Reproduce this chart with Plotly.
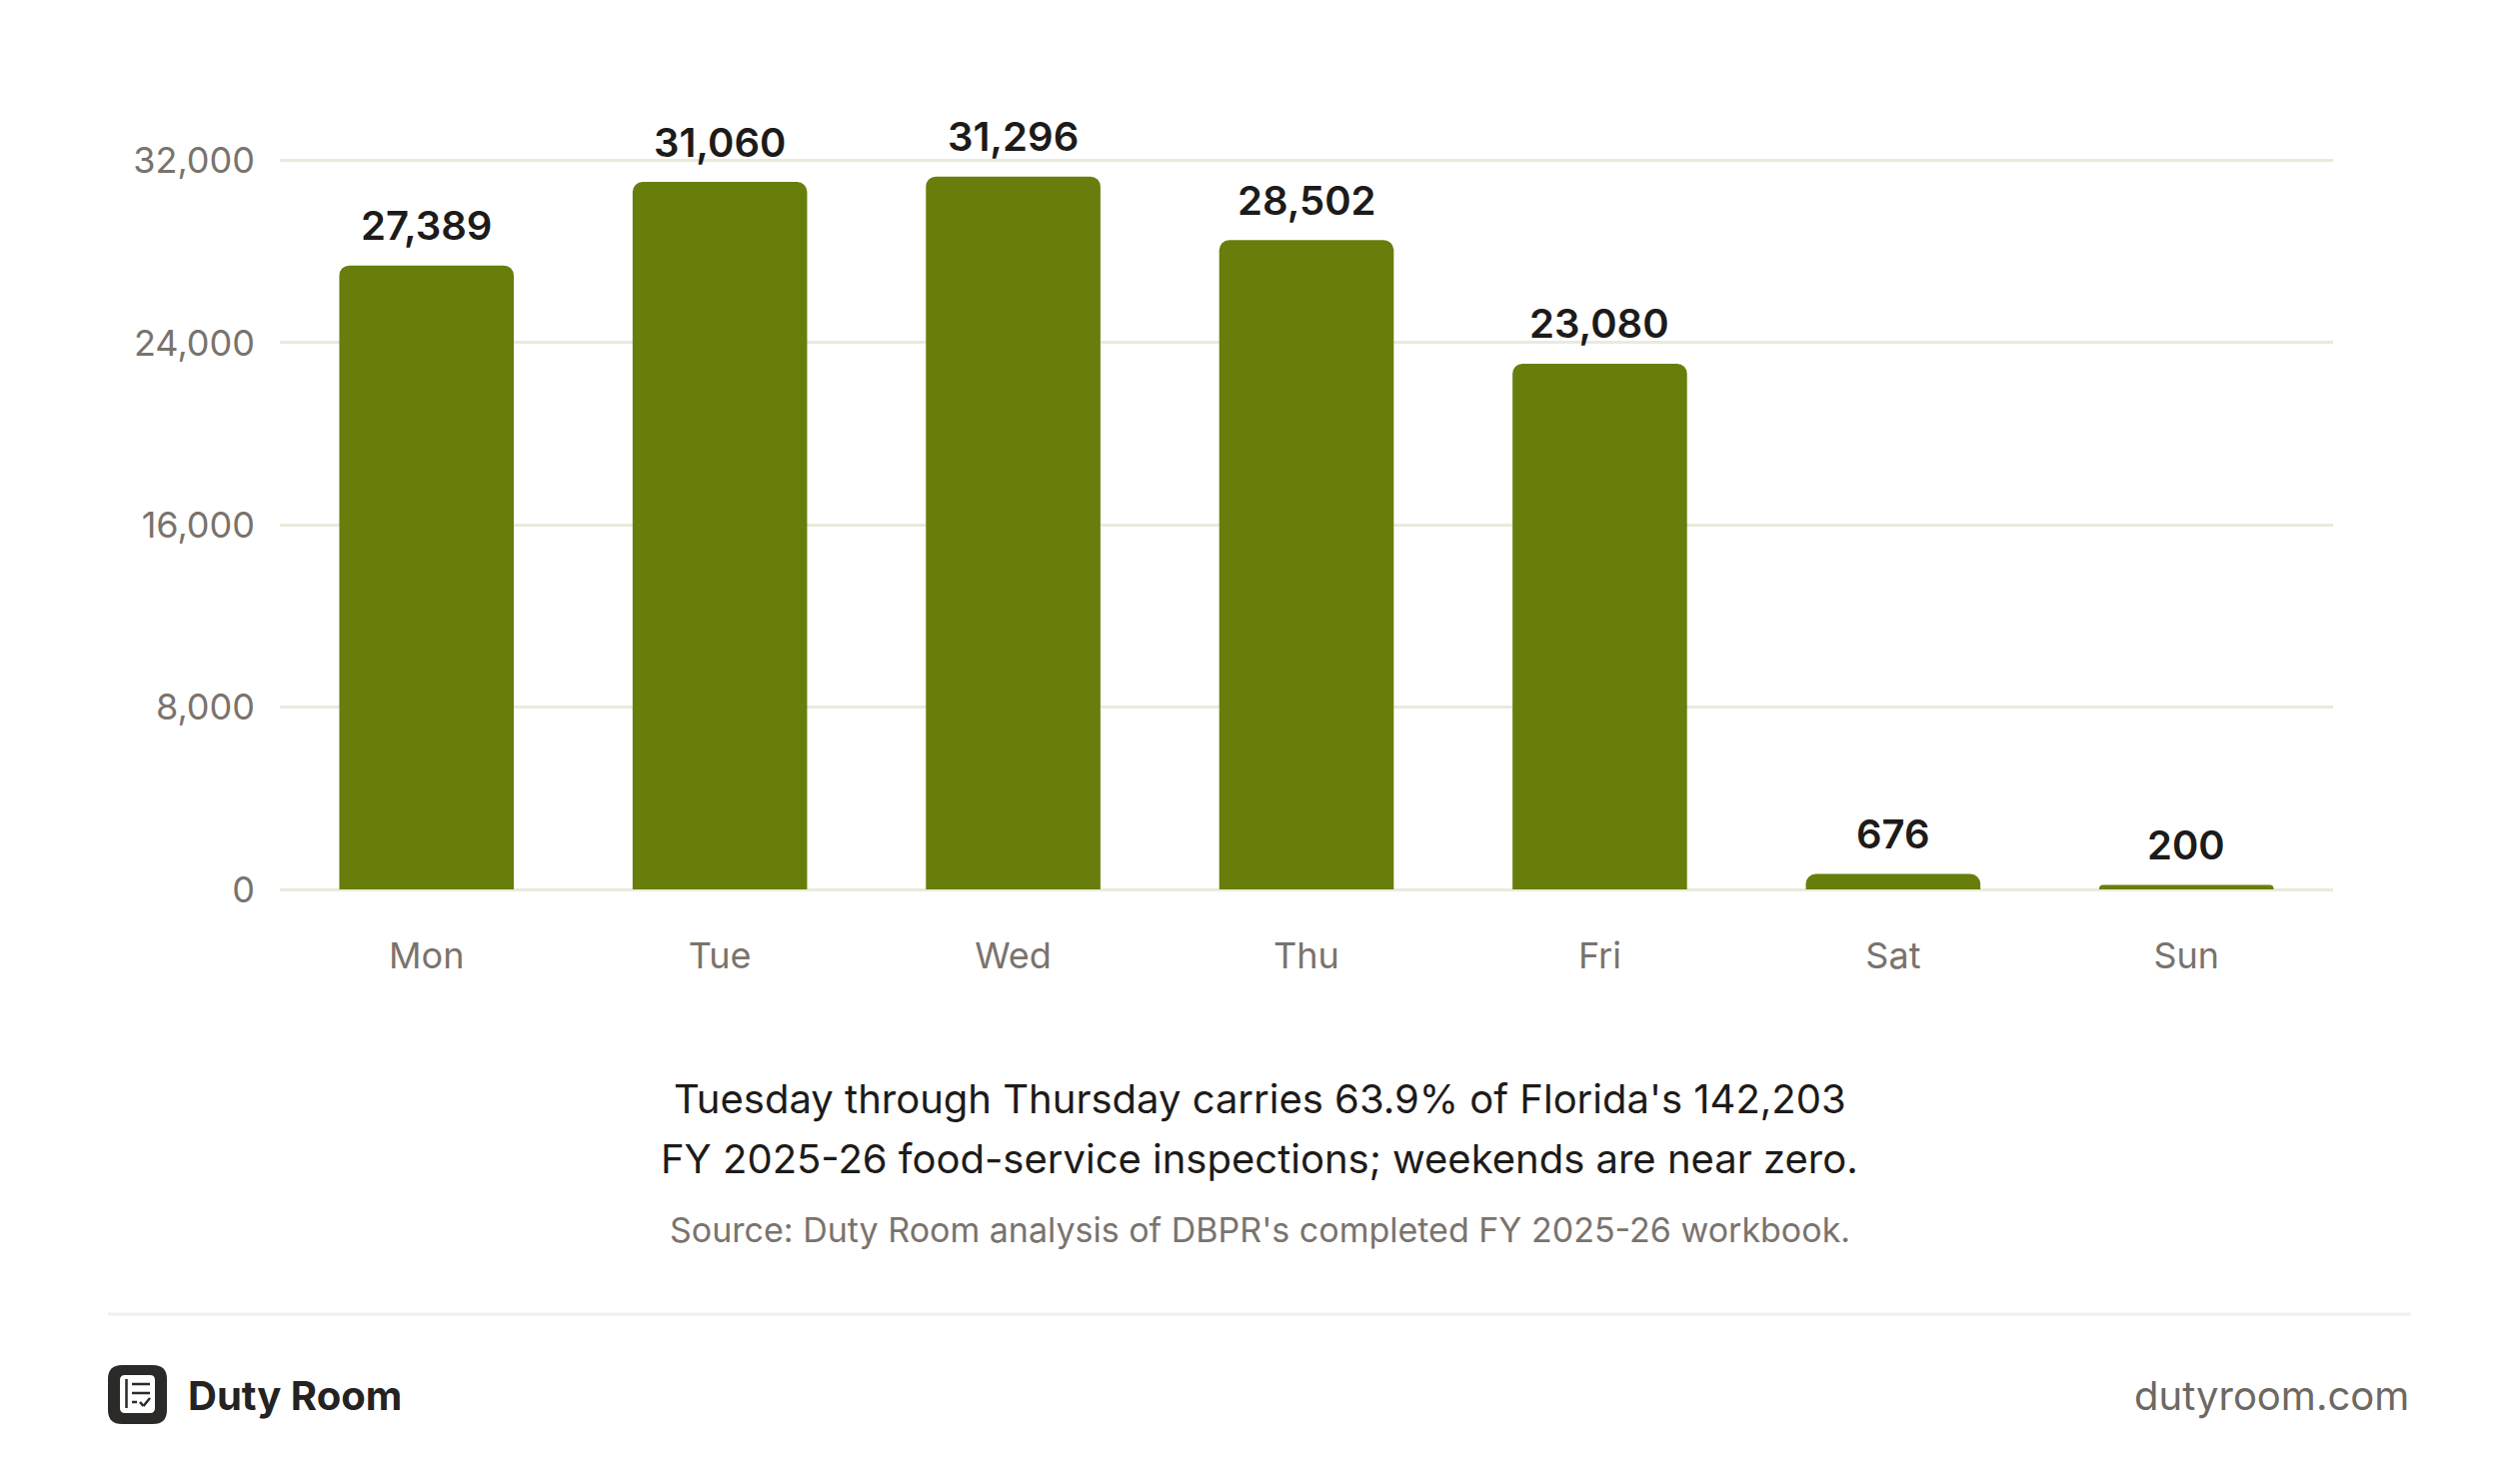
import plotly.graph_objects as go

days = ["Mon", "Tue", "Wed", "Thu", "Fri", "Sat", "Sun"]
inspections = [27389, 31060, 31296, 28502, 23080, 676, 200]
y_ticks = [0, 8000, 16000, 24000, 32000]
y_tick_labels = ["0", "8,000", "16,000", "24,000", "32,000"]

caption_lines = [
    "Tuesday through Thursday carries 63.9% of Florida's 142,203",
    "FY 2025-26 food-service inspections; weekends are near zero.",
]
source_text = "Source: Duty Room analysis of DBPR's completed FY 2025-26 workbook."
brand = "Duty Room"
site = "dutyroom.com"

W, H = 2520, 1485
L, R, T, B = 280, 186, 115, 595
PW, PH = W - L - R, H - T - B

def px(x):
    return (x - L) / PW

def py(y):
    return (H - B - y) / PH

FONT = "Inter, Roboto, sans-serif"
GREEN = "#677E0D"
GRID = "#E8EBDC"
TICK = "#7A736D"
DARK = "#1D1B1A"

fig = go.Figure()
fig.add_trace(go.Bar(
    x=days, y=inspections,
    marker=dict(color=GREEN, cornerradius=10, line=dict(width=0)),
    hoverinfo="skip",
))

annotations = []
for d, v in zip(days, inspections):
    annotations.append(dict(
        x=d, y=v, xref="x", yref="y", text=f"{v:,}", showarrow=False,
        yanchor="middle", yshift=40,
        font=dict(family=FONT, size=40, color=DARK, weight=600),
    ))

annotations.append(dict(x=px(1260), y=py(1099), xref="paper", yref="paper",
                        text=caption_lines[0], showarrow=False, xanchor="center", yanchor="middle",
                        font=dict(family=FONT, size=40, color=DARK)))
annotations.append(dict(x=px(1260), y=py(1159), xref="paper", yref="paper",
                        text=caption_lines[1], showarrow=False, xanchor="center", yanchor="middle",
                        font=dict(family=FONT, size=40, color=DARK)))
annotations.append(dict(x=px(1260), y=py(1230), xref="paper", yref="paper",
                        text=source_text, showarrow=False, xanchor="center", yanchor="middle",
                        font=dict(family=FONT, size=34, color="#7A736D")))
annotations.append(dict(x=px(186), y=py(1396), xref="paper", yref="paper",
                        text=brand, showarrow=False, xanchor="left", yanchor="middle",
                        font=dict(family=FONT, size=40, color="#242322", weight=700)))
annotations.append(dict(x=px(2412), y=py(1396), xref="paper", yref="paper",
                        text=site, showarrow=False, xanchor="right", yanchor="middle",
                        font=dict(family=FONT, size=40, color="#6E6862")))

def rrect(x0, y0, x1, y1, r):
    X0, X1 = px(x0), px(x1)
    Y0, Y1 = py(y0), py(y1)
    rx, ry = r / PW, r / PH
    return (f"M{X0+rx},{Y0} L{X1-rx},{Y0} Q{X1},{Y0} {X1},{Y0-ry} "
            f"L{X1},{Y1+ry} Q{X1},{Y1} {X1-rx},{Y1} L{X0+rx},{Y1} "
            f"Q{X0},{Y1} {X0},{Y1+ry} L{X0},{Y0-ry} Q{X0},{Y0} {X0+rx},{Y0} Z")

shapes = [
    dict(type="line", xref="paper", yref="paper", x0=px(108), x1=px(2412), y0=py(1315), y1=py(1315),
         line=dict(color="#F0EFEC", width=3)),
    dict(type="path", xref="paper", yref="paper", path=rrect(108, 1366, 167, 1425, 14),
         fillcolor="#2B2A29", line=dict(width=0)),
    dict(type="path", xref="paper", yref="paper", path=rrect(120, 1376, 155, 1414, 5),
         fillcolor="#FFFFFF", line=dict(width=0)),
]
def seg(x0, y0, x1, y1, w=2.5):
    return dict(type="line", xref="paper", yref="paper", x0=px(x0), y0=py(y0), x1=px(x1), y1=py(y1),
                line=dict(color="#2B2A29", width=w))
shapes += [
    seg(126.5, 1380, 126.5, 1409),
    seg(132, 1385, 150, 1385),
    seg(132, 1394, 150, 1394),
    seg(132, 1403, 137, 1403),
    seg(140, 1403, 143.5, 1407),
    seg(143.5, 1407, 150, 1399),
]

fig.update_layout(
    width=W, height=H,
    margin=dict(l=L, r=R, t=T, b=B, pad=0),
    paper_bgcolor="white", plot_bgcolor="white",
    bargap=0.405,
    showlegend=False,
    annotations=annotations,
    shapes=shapes,
    font=dict(family=FONT),
    xaxis=dict(
        showgrid=False, showline=False, zeroline=False, ticks="",
        tickfont=dict(family=FONT, size=36, color=TICK),
        ticklabelstandoff=42,
    ),
    yaxis=dict(
        range=[0, 34000],
        tickvals=y_ticks, ticktext=y_tick_labels,
        showgrid=True, gridcolor=GRID, gridwidth=3,
        zeroline=True, zerolinecolor=GRID, zerolinewidth=3,
        showline=False, ticks="",
        tickfont=dict(family=FONT, size=36, color=TICK),
        ticklabelstandoff=24,
    ),
)

fig.write_html("out.html", config={"displayModeBar": False})
with open("out.html", "r", encoding="utf-8") as f:
    html = f.read()
html = html.replace("<head>", "<head><style>html,body{margin:0;padding:0;overflow:hidden;}</style>", 1)
with open("out.html", "w", encoding="utf-8") as f:
    f.write(html)
